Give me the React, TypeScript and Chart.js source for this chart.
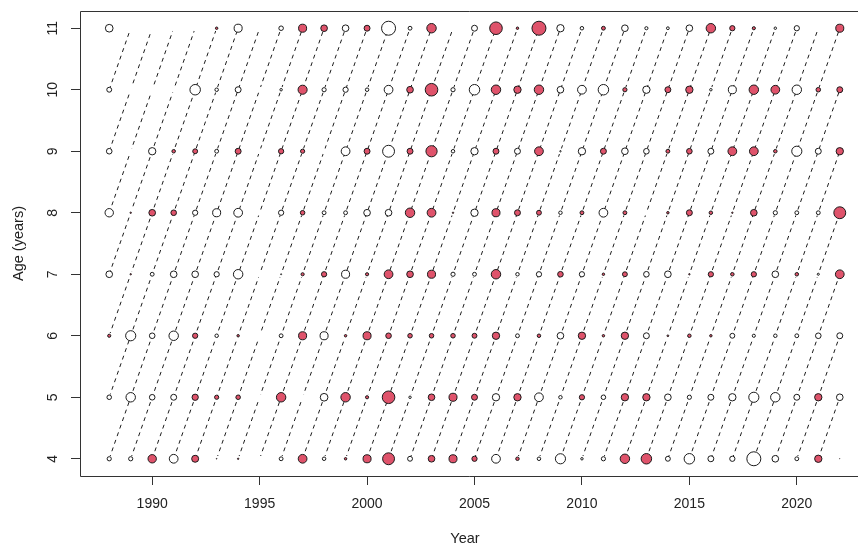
import React, { useEffect, useRef } from "react";
import { Chart, registerables } from "chart.js";

Chart.register(...registerables);

// ---- data ----
const YEARS = [
  1988, 1989, 1990, 1991, 1992, 1993, 1994, 1995, 1996, 1997, 1998, 1999,
  2000, 2001, 2002, 2003, 2004, 2005, 2006, 2007, 2008, 2009, 2010, 2011,
  2012, 2013, 2014, 2015, 2016, 2017, 2018, 2019, 2020, 2021, 2022,
];
const AGES = [4, 5, 6, 7, 8, 9, 10, 11];
const X_TICKS = [1990, 1995, 2000, 2005, 2010, 2015, 2020];
const Y_TICKS = [4, 5, 6, 7, 8, 9, 10, 11];

// residuals (positive = filled red, negative = open); null = no data
const RES_AGE4 = [
  -0.6, -0.6, 1.2, -1.25, 1.0, 0.1, 0.2, null,
  -0.55, 1.25, -0.5, 0.35,
  1.15, 1.7, -0.7, 0.95, 1.15, 0.75,
  -1.25, 0.5, -0.5, -1.45, -0.35, -0.6,
  1.35, 1.5, -0.7, -1.5, -0.85, -0.75,
  -2.0, -0.95, -0.55, 1.05, 0.05,
];
const RES_AGE5 = [
  -0.65, -1.35, -0.8, -0.85, 0.9, 0.6, 0.65, null,
  1.35, 0, -1.1, 1.35,
  0.45, 1.8, -0.35, 0.95, 1.15, 0.85,
  -1.05, 1.05, -1.25, -0.5, 0.75, -0.65,
  1.05, 1.05, -0.95, -0.6, -0.85, -1.05,
  -1.45, -1.35, -0.85, 1.05, -0.95,
];
const RES_AGE6 = [
  0.45, -1.45, -0.8, -1.35, 0.75, -0.5, 0.35, null,
  -0.55, 1.15, -1.15, 0.35,
  1.15, 0.8, 0.65, 0.65, 0.65, 0.7,
  1.05, -0.55, 0.5, -0.95, 1.05, 0.35,
  1.05, -0.85, 0.25, 0.5, 0.35, -0.7,
  -0.45, -0.5, -0.55, -0.8, -0.85,
];
const RES_AGE7 = [
  -0.95, 0.2, -0.55, -0.95, -0.95, -0.75, -1.35, null,
  -0.15, 0.45, 0.75, -1.15,
  0.45, 1.25, 0.95, 1.15, -0.6, -0.55,
  1.35, -0.5, -0.75, 0.8, -0.75, 0.35,
  0.7, -0.8, -0.95, 0.2, 0.75, 0.5,
  0.75, -0.95, 0.5, -0.3, 1.25,
];
const RES_AGE8 = [
  -1.2, 0.2, 0.95, 0.8, -0.75, -1.15, -1.25, null,
  -0.75, 0.65, -0.55, -0.55,
  -0.95, -0.95, 1.35, 1.25, 0.2, -1.05,
  1.15, 0.85, 0.7, -0.5, 0.55, -1.25,
  0.55, 0, 0.35, 0.85, 0.5, 0.2,
  0.95, -0.6, -0.55, -0.55, 1.7,
];
const RES_AGE9 = [
  -0.8, 0, -1.05, 0.5, 0.7, -0.55, 0.85, null,
  0.75, 0.6, 0, -1.25,
  0.85, -1.7, 0.85, 1.6, -0.5, -1.05,
  0.85, -0.85, 1.25, -0.2, -1.05, 0.85,
  -0.95, -0.8, 0.55, 0.8, -0.85, 1.25,
  1.25, 0.5, -1.45, -0.85, 1.05,
];
const RES_AGE10 = [
  -0.7, 0, 0, 0, -1.5, -0.5, -0.85, null,
  -0.35, 1.3, -0.6, -0.75,
  -0.5, -1.25, 0.95, 1.8, -0.6, -1.5,
  1.35, 1.05, 1.35, -0.95, -1.25, -1.5,
  0.6, -1.05, 0.85, 1.05, -0.35, -1.15,
  1.35, 1.25, -1.35, 0.65, 0.85,
];
const RES_AGE11 = [
  -1.1, 0, 0, 0, 0, 0.35, -1.15, null,
  -0.65, 1.15, 0.95, -0.95,
  0.85, -2.0, -0.55, 1.35, 0, -0.85,
  1.8, 0.35, 2.0, -1.05, -0.5, 0.55,
  -0.95, -0.45, -0.4, -0.95, 1.35, 0.75,
  0.45, -0.35, -0.75, 0, 1.15,
];

const RESIDUALS = [
  RES_AGE4, RES_AGE5, RES_AGE6, RES_AGE7,
  RES_AGE8, RES_AGE9, RES_AGE10, RES_AGE11,
];

const SIZE_SCALE = 3.5; // pixels of radius per unit residual
const RED = "#DF536B";
const INK = "#333333";
const FONT = "'Liberation Sans', Arial, Helvetica, sans-serif";

const W = 858;
const H = 550;
const PLOT_LEFT = 80;
// the plot box of the original runs past the right edge of the picture;
// its full width (R's 4% padding on both sides) would be this many pixels
const FULL_PLOT_WIDTH = 789;

export default function App() {
  const canvasRef = useRef<HTMLCanvasElement | null>(null);

  useEffect(() => {
    const canvas = canvasRef.current;
    if (!canvas) return;

    const pos: any[] = [];
    const neg: any[] = [];
    AGES.forEach((age, i) => {
      YEARS.forEach((yr, j) => {
        const v = RESIDUALS[i][j];
        if (v === null || v === undefined || v === 0) return;
        const pt = { x: yr, y: age, r: SIZE_SCALE * Math.abs(v) };
        if (v > 0) pos.push(pt);
        else neg.push(pt);
      });
    });

    const first = YEARS[0];
    const last = YEARS[YEARS.length - 1];
    const minAge = AGES[0];
    const span = AGES[AGES.length - 1] - minAge;
    const cohortSets: any[] = [];
    for (let c = first - span; c <= last; c++) {
      const pts = AGES.map((a) => ({ x: c + a - minAge, y: a })).filter(
        (p) => p.x >= first && p.x <= last
      );
      if (pts.length < 2) continue;
      cohortSets.push({
        type: "line",
        data: pts,
        borderColor: "#1a1a1a",
        borderWidth: 1,
        borderDash: [4, 4],
        pointRadius: 3,
        pointBackgroundColor: "#ffffff",
        pointBorderWidth: 0,
        pointBorderColor: "rgba(0,0,0,0)",
        pointHoverRadius: 0,
        fill: false,
        tension: 0,
        order: 1,
        clip: false,
      });
    }

    const xr = last - first;
    const fullMin = first - 0.04 * xr;
    const fullMax = last + 0.04 * xr;
    const pxPerYear = FULL_PLOT_WIDTH / (fullMax - fullMin);
    const yMin = minAge - 0.04 * span;
    const yMax = minAge + span + 0.04 * span;

    const framePlugin = {
      id: "frame",
      afterDraw(chart: any) {
        const { ctx, chartArea } = chart;
        const ys = chart.scales.y;
        const l = Math.round(chartArea.left) + 0.5;
        const t = Math.round(chartArea.top) + 0.5;
        const b = Math.round(chartArea.bottom) + 0.5;
        ctx.save();
        ctx.strokeStyle = INK;
        ctx.lineWidth = 1;
        ctx.setLineDash([]);
        ctx.beginPath();
        ctx.moveTo(W + 2, t);
        ctx.lineTo(l, t);
        ctx.lineTo(l, b);
        ctx.lineTo(W + 2, b);
        ctx.stroke();
        ctx.fillStyle = "#222";
        ctx.font = `14px ${FONT}`;
        ctx.textAlign = "center";
        ctx.textBaseline = "middle";
        Y_TICKS.forEach((tv) => {
          const y = ys.getPixelForValue(tv);
          ctx.save();
          ctx.translate(chartArea.left - 27, y);
          ctx.rotate(-Math.PI / 2);
          ctx.fillText(String(tv), 0, 0);
          ctx.restore();
        });
        ctx.restore();
      },
    };

    const chart = new Chart(canvas, {
      type: "bubble",
      data: {
        datasets: [
          {
            type: "bubble",
            data: pos,
            backgroundColor: RED,
            borderColor: "#1a1a1a",
            borderWidth: 1,
            hoverBorderWidth: 1,
            order: 0,
            clip: false,
          } as any,
          {
            type: "bubble",
            data: neg,
            backgroundColor: "#ffffff",
            borderColor: "#1a1a1a",
            borderWidth: 1,
            hoverBorderWidth: 1,
            order: 0,
            clip: false,
          } as any,
          ...cohortSets,
        ],
      },
      options: {
        animation: false,
        responsive: false,
        events: [],
        layout: { padding: { top: 11, right: 0, left: 0, bottom: 0 } },
        plugins: {
          legend: { display: false },
          tooltip: { enabled: false },
        },
        scales: {
          x: {
            type: "linear",
            min: fullMin,
            max: fullMax,
            afterBuildTicks: (scale: any) => {
              scale.ticks = X_TICKS.map((v) => ({ value: v }));
            },
            afterFit: (scale: any) => {
              scale.height = 74;
            },
            grid: {
              drawOnChartArea: false,
              drawTicks: true,
              tickLength: 9,
              color: INK,
              lineWidth: 1,
            },
            border: { display: false },
            ticks: {
              color: "#222",
              font: { family: FONT, size: 14 },
              padding: 11,
              maxRotation: 0,
              minRotation: 0,
              autoSkip: false,
              callback: (v: any) => String(v),
            },
            title: {
              display: true,
              text: "Year",
              color: "#222",
              font: { family: FONT, size: 14.5 },
              padding: { top: 0, bottom: 2 },
            },
          },
          y: {
            type: "linear",
            min: yMin,
            max: yMax,
            afterBuildTicks: (scale: any) => {
              scale.ticks = Y_TICKS.map((v) => ({ value: v }));
            },
            afterFit: (scale: any) => {
              scale.width = PLOT_LEFT;
            },
            grid: {
              drawOnChartArea: false,
              drawTicks: true,
              tickLength: 9,
              color: INK,
              lineWidth: 1,
            },
            border: { display: false },
            ticks: { display: false },
            title: {
              display: true,
              text: "Age (years)",
              color: "#222",
              font: { family: FONT, size: 14.5 },
              padding: { top: 10, bottom: 0 },
            },
          },
        },
      } as any,
      plugins: [framePlugin],
    });

    // The visible part of the plot box is cut off by the picture's right edge:
    // keep the original's year-to-pixel scale over whatever width is visible.
    const ca = chart.chartArea;
    (chart.options as any).scales.x.max = fullMin + (ca.right - ca.left) / pxPerYear;
    chart.update("none");

    return () => {
      chart.destroy();
    };
  }, []);

  return (
    <div
      style={{
        position: "fixed",
        left: 0,
        top: 0,
        width: W,
        height: H,
        overflow: "hidden",
        background: "#ffffff",
      }}
    >
      <canvas
        ref={canvasRef}
        width={W}
        height={H}
        style={{ width: W, height: H, display: "block" }}
      />
    </div>
  );
}
